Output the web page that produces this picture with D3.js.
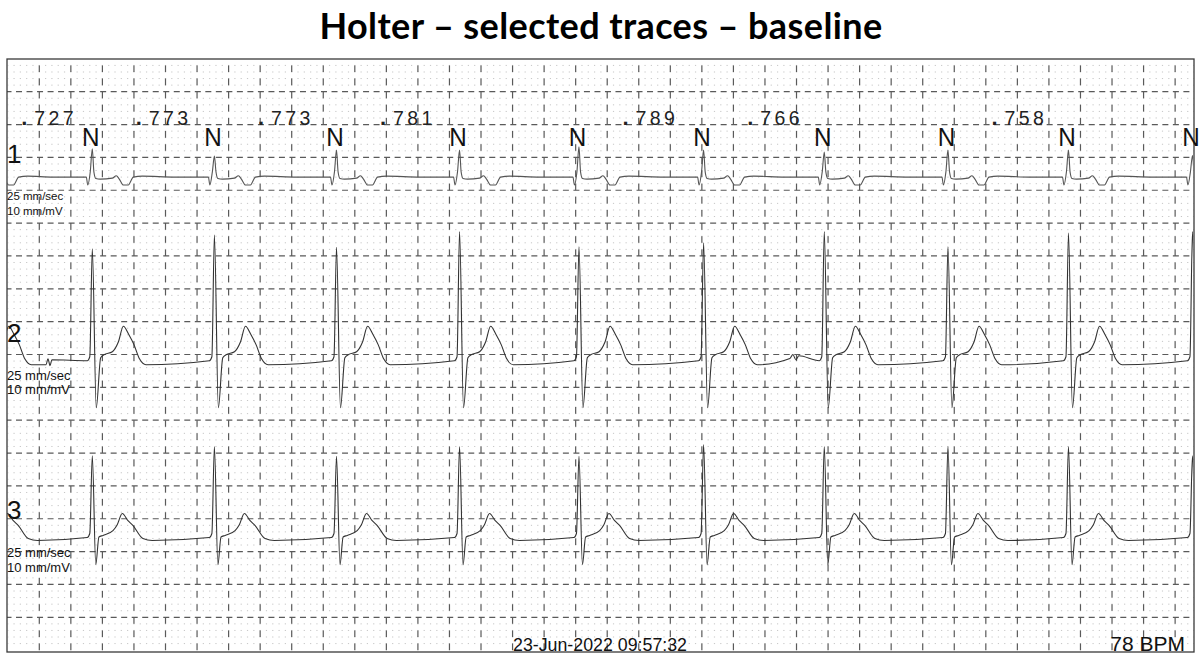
<!DOCTYPE html>
<html>
<head>
<meta charset="utf-8">
<script src="https://cdn.jsdelivr.net/npm/d3@7"></script>
<style>
  body { margin: 0; background: #fff; }
  svg { display: block; }
</style>
</head>
<body>
<div id="chart"></div>
<script>
// R-wave times (s)
var beatTimes = [0.536, 1.310, 2.084, 2.864, 3.621, 4.411, 5.176, 5.960, 6.724, 7.510]
// interval before the first visible beat (s)
var firstInterval = 0.727
var rrLabels = ['.727', '.773', '.773', '.781', '', '.789', '.766', '', '.758', '']
var beatTypes = ['N', 'N', 'N', 'N', 'N', 'N', 'N', 'N', 'N', 'N']

// R amplitudes per beat (mV)
var rAmp1 = [0.43, 0.32, 0.41, 0.41, 0.46, 0.41, 0.38, 0.41, 0.41, 0.33]
var rAmp2 = [1.72, 1.93, 1.74, 1.98, 1.75, 1.81, 1.98, 1.75, 1.96, 1.98]
var rAmp3 = [1.26, 1.40, 1.25, 1.40, 1.25, 1.43, 1.40, 1.40, 1.40, 1.26]

// beat shapes: [ms from R, mV], null = R peak
var beat1 = [[-250, 0], [-38, 0], [-29, -0.12], [-13, 0.08], [0, null], [10, 0.08], [22, -0.02],
  [51, -0.03], [127, -0.015], [152, 0.02], [171, -0.03], [197, -0.12], [228, -0.12], [260, 0], [317, 0.015]]
var beat2 = [[-32, 0.015], [-16, 0.076], [0, null], [25, -0.7], [53, 0.06], [74, 0.107], [127, 0.152],
  [165, 0.3], [197, 0.54], [232, 0.41], [264, 0.26], [300, 0.04], [340, -0.046]]
var beat3 = [[-32, 0.015], [-16, 0.076], [0, null], [22, -0.4], [42, 0.023], [68, 0.046], [131, 0.12],
  [158, 0.21], [190, 0.38], [226, 0.27], [257, 0.2], [321, 0], [380, -0.03]]

// small artefacts on lead 2: [s, mV]
var noise2 = [[0.243, -0.046], [0.255, 0.046], [0.268, -0.06], [0.28, 0.03],
  [4.958, 0.05], [4.977, 0.11], [4.996, 0.03], [5.015, 0.09]]

var leadNames = ['1', '2', '3']
var speedText = '25 mm/sec'
var gainText = '10 mm/mV'
var stampText = '23-Jun-2022 09:57:32'
var rateText = '78 BPM'
var titleText = 'Holter \u2013 selected traces \u2013 baseline'

var width = 1200
var height = 660
var box = { left: 7, top: 59, right: 1194, bottom: 652 }

var svg = d3
  .select('#chart')
  .append('svg')
  .attr('width', width)
  .attr('height', height)

// time in seconds, paper in mm (25 mm/s, 10 mm/mV)
var xScale = d3.scaleLinear().domain([0, 7.5]).range([7.75, 1190.9])
var yScale = d3.scaleLinear().domain([0, 90]).range([58.85, 650.15])

var minorX = xScale(0.04) - xScale(0)
var mmY = yScale(1) - yScale(0)

svg
  .append('text')
  .attr('x', 601)
  .attr('y', 39)
  .attr('text-anchor', 'middle')
  .attr('font-family', 'Lato, "Open Sans", sans-serif')
  .attr('font-weight', 700)
  .attr('font-size', 36)
  .attr('letter-spacing', 0.4)
  .attr('fill', '#000')
  .text(titleText)

var grid = svg.append('g')

// dotted minor rows
grid
  .selectAll('.dots')
  .data(d3.range(1, 90).filter(d => d % 5 !== 0))
  .enter()
  .append('line')
  .attr('class', 'dots')
  .attr('x1', xScale(0))
  .attr('x2', box.right)
  .attr('y1', d => yScale(d))
  .attr('y2', d => yScale(d))
  .attr('stroke', '#c6c6c6')
  .attr('stroke-width', 1)
  .attr('stroke-dasharray', '1.2 ' + (minorX - 1.2))
  .attr('stroke-dashoffset', 0.6)

// dashed major columns
grid
  .selectAll('.vmajor')
  .data(d3.range(1, 38).map(k => k * 0.2))
  .enter()
  .append('line')
  .attr('class', 'vmajor')
  .attr('x1', d => xScale(d))
  .attr('x2', d => xScale(d))
  .attr('y1', yScale(0))
  .attr('y2', box.bottom)
  .attr('stroke', '#5a5a5a')
  .attr('stroke-width', 1.2)
  .attr('stroke-dasharray', mmY + ' ' + mmY)
  .attr('stroke-dashoffset', mmY)

// dashed major rows
grid
  .selectAll('.hmajor')
  .data(d3.range(1, 18).map(k => k * 5))
  .enter()
  .append('line')
  .attr('class', 'hmajor')
  .attr('x1', box.left)
  .attr('x2', box.right)
  .attr('y1', d => yScale(d))
  .attr('y2', d => yScale(d))
  .attr('stroke', '#5a5a5a')
  .attr('stroke-width', 1.2)
  .attr('stroke-dasharray', '6 ' + (minorX * 5 / 3 - 6))
  .attr('stroke-dashoffset', 1.5)

grid
  .append('rect')
  .attr('x', box.left)
  .attr('y', box.top)
  .attr('width', box.right - box.left)
  .attr('height', box.bottom - box.top)
  .attr('fill', 'none')
  .attr('stroke', '#3a3a3a')
  .attr('stroke-width', 1.3)

svg
  .append('clipPath')
  .attr('id', 'strip')
  .append('rect')
  .attr('x', box.left)
  .attr('y', box.top)
  .attr('width', box.right - box.left - 1)
  .attr('height', box.bottom - box.top)

function buildTrace(shape, amps, extra) {
  var times = [beatTimes[0] - firstInterval].concat(beatTimes)
  var peaks = [amps[0]].concat(amps)
  var pts = []
  times.forEach(function(t, i) {
    shape.forEach(function(p) {
      pts.push({ t: t + p[0] / 1000, mv: p[1] === null ? peaks[i] : p[1] })
    })
  })
  extra.forEach(function(p) {
    pts.push({ t: p[0], mv: p[1] })
  })
  pts.sort((a, b) => a.t - b.t)
  return pts
}

var leads = [
  { name: leadNames[0], base: 18, pts: buildTrace(beat1, rAmp1, []), color: '#555', small: 11.5 },
  { name: leadNames[1], base: 46.1, pts: buildTrace(beat2, rAmp2, noise2), color: '#333', small: 13 },
  { name: leadNames[2], base: 73, pts: buildTrace(beat3, rAmp3, []), color: '#333', small: 13 }
]

var traces = svg.append('g').attr('clip-path', 'url(#strip)')

leads.forEach(function(lead) {
  var line = d3
    .line()
    .x(d => xScale(d.t))
    .y(d => yScale(lead.base - d.mv * 10))
    .curve(d3.curveMonotoneX)

  traces
    .append('path')
    .datum(lead.pts)
    .attr('d', line)
    .attr('fill', 'none')
    .attr('stroke', lead.color)
    .attr('stroke-width', 1.1)
    .attr('stroke-linejoin', 'round')
})

var labels = svg.append('g').attr('font-family', '"Liberation Sans", Arial, sans-serif').attr('fill', '#111')

// lead numbers and calibration notes
var numberY = [163, 342, 519]
var noteY = [[200, 215], [380, 394], [557, 572]]
leads.forEach(function(lead, i) {
  labels
    .append('text')
    .attr('x', 7)
    .attr('y', numberY[i])
    .attr('font-size', 26)
    .text(lead.name)

  labels
    .append('text')
    .attr('x', 7)
    .attr('y', noteY[i][0])
    .attr('font-size', lead.small)
    .text(speedText)

  labels
    .append('text')
    .attr('x', 7)
    .attr('y', noteY[i][1])
    .attr('font-size', lead.small)
    .text(gainText)
})

// beat annotations
labels
  .selectAll('.beat-type')
  .data(beatTimes)
  .enter()
  .append('text')
  .attr('class', 'beat-type')
  .attr('x', d => xScale(d) - 1.5)
  .attr('y', 146)
  .attr('text-anchor', 'middle')
  .attr('font-size', 26)
  .attr('textLength', 17.5)
  .attr('lengthAdjust', 'spacingAndGlyphs')
  .text((d, i) => beatTypes[i])

var rr = labels
  .selectAll('.rr')
  .data(beatTimes.filter((d, i) => rrLabels[i] !== ''))
  .enter()
  .append('text')
  .attr('class', 'rr')
  .attr('x', function(d) {
    var i = beatTimes.indexOf(d)
    var prev = i === 0 ? d - firstInterval : beatTimes[i - 1]
    return xScale(prev + 0.295) - 3
  })
  .attr('y', 124.5)
  .attr('font-size', 19.5)
  .attr('letter-spacing', 3.4)
  .attr('fill', '#222')

rr
  .append('tspan')
  .attr('font-weight', 700)
  .attr('font-size', 22)
  .text(d => rrLabels[beatTimes.indexOf(d)].slice(0, 1))
rr
  .append('tspan')
  .attr('dx', 3.5)
  .text(d => rrLabels[beatTimes.indexOf(d)].slice(1))

labels
  .append('text')
  .attr('x', 600)
  .attr('y', 650.5)
  .attr('text-anchor', 'middle')
  .attr('font-size', 18)
  .attr('textLength', 174)
  .attr('lengthAdjust', 'spacingAndGlyphs')
  .text(stampText)

labels
  .append('text')
  .attr('x', 1185)
  .attr('y', 650.5)
  .attr('text-anchor', 'end')
  .attr('font-size', 21)
  .text(rateText)
</script>
</body>
</html>
